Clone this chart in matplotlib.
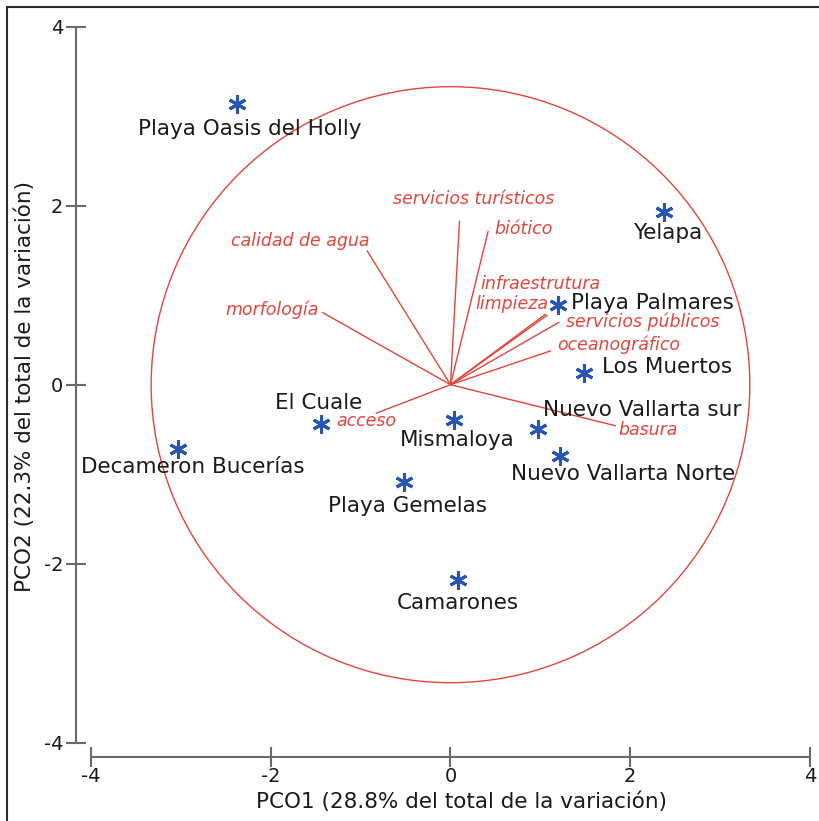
import matplotlib
matplotlib.use("Agg")
import matplotlib.pyplot as plt
from matplotlib.patches import Circle, Rectangle

# ---- data ----
sites = ["Playa Oasis del Holly", "Yelapa", "Playa Palmares", "Los Muertos",
         "Nuevo Vallarta sur", "Nuevo Vallarta Norte", "Mismaloya", "El Cuale",
         "Decameron Bucerías", "Playa Gemelas", "Camarones"]
pco1 = [-2.38, 2.37, 1.20, 1.48, 0.97, 1.22, 0.04, -1.44, -3.03, -0.52, 0.08]
pco2 = [3.14, 1.93, 0.89, 0.13, -0.49, -0.80, -0.39, -0.44, -0.72, -1.09, -2.18]

variables = ["servicios turísticos", "biótico", "calidad de agua", "morfología",
             "infraestrutura", "limpieza", "servicios públicos", "oceanográfico",
             "acceso", "basura"]
vec_x = [0.10, 0.42, -0.93, -1.43, 1.06, 1.08, 1.21, 1.12, -0.83, 1.84]
vec_y = [1.83, 1.72, 1.50, 0.81, 0.79, 0.78, 0.70, 0.38, -0.32, -0.46]

circle_radius = 3.33
xticks = [-4, -2, 0, 2, 4]
yticks = [-4, -2, 0, 2, 4]
xlabel = "PCO1 (28.8% del total de la variación)"
ylabel = "PCO2 (22.3% del total de la variación)"

# ---- label placement (layout) ----
site_label_pos = {
    "Playa Oasis del Holly": (-2.23, 2.86, "center"),
    "Yelapa": (2.42, 1.69, "center"),
    "Playa Palmares": (1.34, 0.91, "left"),
    "Los Muertos": (1.68, 0.20, "left"),
    "Nuevo Vallarta sur": (1.03, -0.28, "left"),
    "Nuevo Vallarta Norte": (0.67, -1.00, "left"),
    "Mismaloya": (0.07, -0.62, "center"),
    "El Cuale": (-1.47, -0.21, "center"),
    "Decameron Bucerías": (-2.87, -0.92, "center"),
    "Playa Gemelas": (-0.48, -1.36, "center"),
    "Camarones": (0.08, -2.44, "center"),
}
var_label_pos = {
    "servicios turísticos": (0.26, 2.07, "center"),
    "biótico": (0.49, 1.74, "left"),
    "calidad de agua": (-0.90, 1.61, "right"),
    "morfología": (-1.47, 0.84, "right"),
    "infraestrutura": (0.33, 1.13, "left"),
    "limpieza": (0.28, 0.90, "left"),
    "servicios públicos": (1.28, 0.70, "left"),
    "oceanográfico": (1.19, 0.45, "left"),
    "acceso": (-1.27, -0.41, "left"),
    "basura": (1.87, -0.51, "left"),
}

RED = "#e2453c"
BLUE = "#2656b2"
GREY = "#6a6a6a"
FONT = ["DejaVu Sans"]

plt.rcParams["font.family"] = FONT

fig = plt.figure(figsize=(8.19, 8.21), dpi=100)
ax = fig.add_axes([76 / 819, 1 - 757 / 821, 739 / 819, 737 / 821])
ax.set_xlim(-4.166, 4.055)
ax.set_ylim(-4.16, 4.075)

# circle
ax.add_patch(Circle((0, 0), circle_radius, fill=False, ec=RED, lw=1.0))

# vectors
for name, dx, dy in zip(variables, vec_x, vec_y):
    ax.plot([0, dx], [0, dy], color=RED, lw=1.0, solid_capstyle="butt")
    tx, ty, ha = var_label_pos[name]
    ax.text(tx, ty, name, color=RED, fontsize=12.5, style="italic",
            ha=ha, va="center")

# points
ax.plot(pco1, pco2, linestyle="none", marker=(6, 2, 0), markersize=13,
        markeredgewidth=2.2, color=BLUE)
for name in sites:
    tx, ty, ha = site_label_pos[name]
    ax.text(tx, ty, name, color="#1a1a1a", fontsize=15.5, ha=ha, va="center")

# axes styling
for s in ["top", "right"]:
    ax.spines[s].set_visible(False)
for s in ["left", "bottom"]:
    ax.spines[s].set_color(GREY)
    ax.spines[s].set_linewidth(1.5)
ax.spines["left"].set_bounds(-4, 4)
ax.spines["bottom"].set_bounds(-4, 4)
ax.set_xticks(xticks)
ax.set_yticks(yticks)
ax.set_xticklabels([str(v) for v in xticks])
ax.set_yticklabels([str(v) for v in yticks])
ax.tick_params(axis="both", direction="inout", length=14.5, width=1.5,
               color=GREY, labelsize=14, labelcolor="#1a1a1a")
ax.tick_params(axis="x", pad=0)
ax.tick_params(axis="y", pad=2)
ax.patch.set_alpha(0)

fig.text(461 / 819, 1 - 802 / 821, xlabel, ha="center", va="center",
         fontsize=15.5, color="#1a1a1a")
fig.text(25 / 819, 1 - 386 / 821, ylabel, ha="center", va="center",
         rotation=90, fontsize=15.5, color="#1a1a1a")

# outer frame
fig.patches.append(Rectangle((7 / 819, -0.05), 1.2, 1 - 7 / 821 + 0.05,
                             transform=fig.transFigure, fill=False,
                             ec="#2a2a2a", lw=1.5))

fig.savefig("out.png", dpi=100)
